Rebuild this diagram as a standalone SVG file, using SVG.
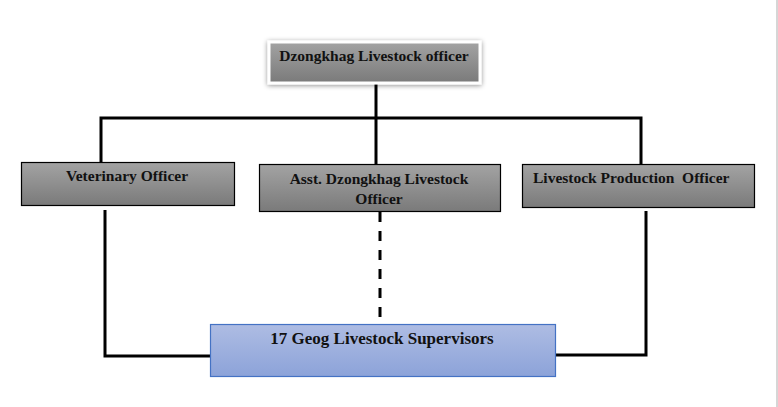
<svg xmlns="http://www.w3.org/2000/svg" width="778" height="407" viewBox="0 0 778 407">
<defs>
<linearGradient id="gray" x1="0" y1="0" x2="0" y2="1">
<stop offset="0" stop-color="#a3a3a3"/>
<stop offset="1" stop-color="#7a7a7a"/>
</linearGradient>
<linearGradient id="blue" x1="0" y1="0" x2="0" y2="1">
<stop offset="0" stop-color="#aebce3"/>
<stop offset="1" stop-color="#8ca3d9"/>
</linearGradient>
<filter id="shadow" x="-10%" y="-30%" width="120%" height="160%">
<feDropShadow dx="0" dy="1" stdDeviation="2.5" flood-color="#000" flood-opacity="0.45"/>
</filter>
</defs>
<style>
.box{fill:url(#gray);stroke:#000;stroke-width:1.2}
.t{font-family:"Liberation Serif","Times New Roman",serif;font-weight:bold;font-size:15.5px;fill:#111}
.ln{stroke:#000;stroke-width:3;fill:none}
.dash{stroke:#000;stroke-width:3;fill:none;stroke-dasharray:10 9}
</style>
<rect x="0" y="0" width="778" height="407" fill="#fff"/>
<line x1="777" y1="0" x2="777" y2="407" stroke="#c8c8c8" stroke-width="1.5"/>
<g id="connectors">
<polyline class="ln" points="376,83 376,164"/>
<polyline class="ln" points="101,164 101,118 641,118 641,164"/>
<path class="dash" d="M380,212 V325"/>
<polyline class="ln" points="105,210 105,356 210,356"/>
<polyline class="ln" points="556,355 646,355 646,211"/>
</g>
<g id="dzongkhag-livestock-officer">
<rect x="269" y="42" width="211" height="41" fill="url(#gray)" stroke="#fff" stroke-width="3" filter="url(#shadow)"/>
<text class="t" x="374" y="61" text-anchor="middle">Dzongkhag Livestock officer</text>
</g>
<g id="veterinary-officer">
<rect class="box" x="21.5" y="162.5" width="213" height="43"/>
<text class="t" x="127" y="181" text-anchor="middle">Veterinary Officer</text>
</g>
<g id="asst-dzongkhag-livestock-officer">
<rect class="box" x="259.5" y="164.5" width="241" height="47"/>
<text class="t" x="379" y="184" text-anchor="middle">Asst. Dzongkhag Livestock</text>
<text class="t" x="379" y="204" text-anchor="middle">Officer</text>
</g>
<g id="livestock-production-officer">
<rect class="box" x="522.5" y="164.5" width="232" height="43"/>
<text class="t" x="533" y="183" xml:space="preserve">Livestock Production  Officer</text>
</g>
<g id="geog-livestock-supervisors">
<rect x="210.5" y="324.5" width="345" height="52" fill="url(#blue)" stroke="#4472c4" stroke-width="1.2"/>
<text class="t" x="382" y="344" text-anchor="middle" style="font-size:17px">17 Geog Livestock Supervisors</text>
</g>
</svg>
